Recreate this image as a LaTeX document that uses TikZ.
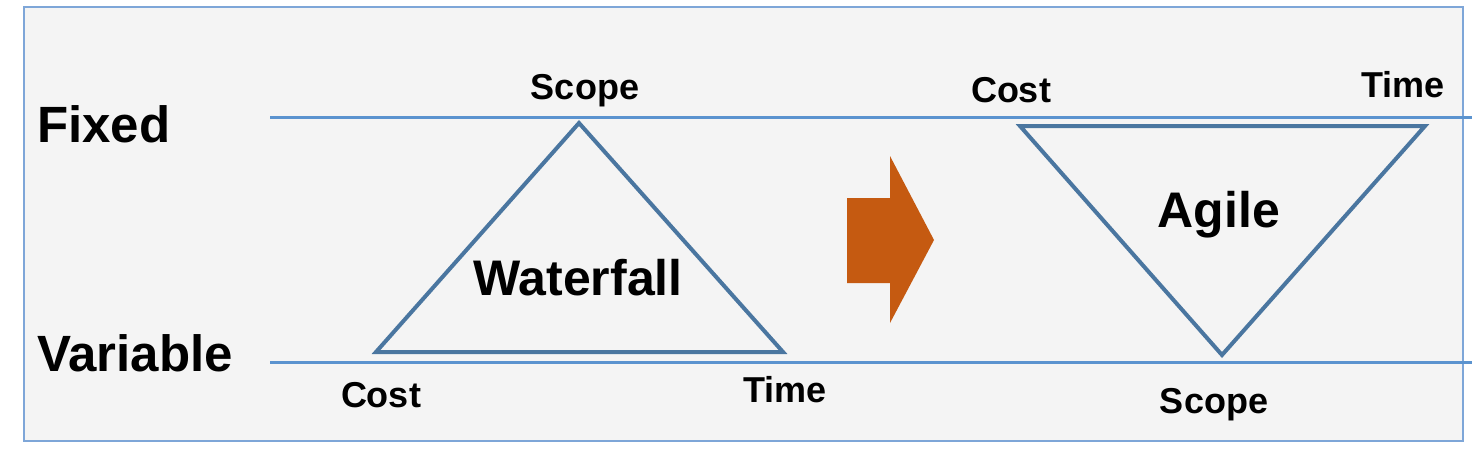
\documentclass[tikz,border=0pt]{standalone}
\usepackage{fontspec}
\setmainfont{Liberation Sans}
\usepackage{tikz}
\usetikzlibrary{arrows, shapes}

\definecolor{panel}{HTML}{F4F4F4}
\definecolor{framecol}{HTML}{7EA6D8}
\definecolor{levelcol}{HTML}{5B93CF}
\definecolor{tricol}{HTML}{4A76A0}
\definecolor{arrowcol}{HTML}{C55A11}

\begin{document}
\begin{tikzpicture}[x=1pt, y=-1pt]
    \tikzstyle{every node} = [inner sep=0, font=\bfseries]
    \tikzstyle{big} = [font=\bfseries\fontsize{51}{58}\selectfont, anchor=base west]
    \tikzstyle{corner} = [font=\bfseries\fontsize{36}{40}\selectfont, anchor=base]
    \tikzstyle{title} = [font=\bfseries\fontsize{50}{56}\selectfont, anchor=base]
    \useasboundingbox (0,0) rectangle (1481,450);
    \draw [framecol, line width=2pt, fill=panel] (24,7) rectangle (1463,441);
    % fixed / variable levels
    \coordinate (fl) at (270,117);
    \coordinate (fr) at (1472,117);
    \coordinate (vl) at (270,362);
    \coordinate (vr) at (1472,362);
    \draw [levelcol, line width=3pt] (fl) -- (fr);
    \draw [levelcol, line width=3pt] (vl) -- (vr);
    \node (fixed) [big] at (37,142) {Fixed};
    \node (variable) [big] at (37,371) {Variable};
    % waterfall
    \coordinate (ws) at (579,123);
    \coordinate (wc) at (376,352);
    \coordinate (wt) at (783,352);
    \draw [tricol, line width=4pt, line join=miter] (ws) -- (wc) -- (wt) -- cycle;
    \node (wscope) [corner] at (585,99) {Scope};
    \node (wcost) [corner] at (381,407) {Cost};
    \node (wtime) [corner] at (785,402) {Time};
    \node (waterfall) [title] at (578,295) {Waterfall};
    % shift arrow
    \fill [arrowcol] (847,198) -- (890,198) -- (890,156) -- (934,240)
        -- (890,323) -- (890,283) -- (847,283) -- cycle;
    % agile
    \coordinate (ac) at (1020,126);
    \coordinate (at) at (1425,126);
    \coordinate (as) at (1222,355);
    \draw [tricol, line width=4pt, line join=miter] (ac) -- (at) -- (as) -- cycle;
    \node (acost) [corner] at (1011,102) {Cost};
    \node (atime) [corner] at (1403,97) {Time};
    \node (ascope) [corner] at (1214,413) {Scope};
    \node (agile) [title] at (1219,227) {Agile};
\end{tikzpicture}
\end{document}
